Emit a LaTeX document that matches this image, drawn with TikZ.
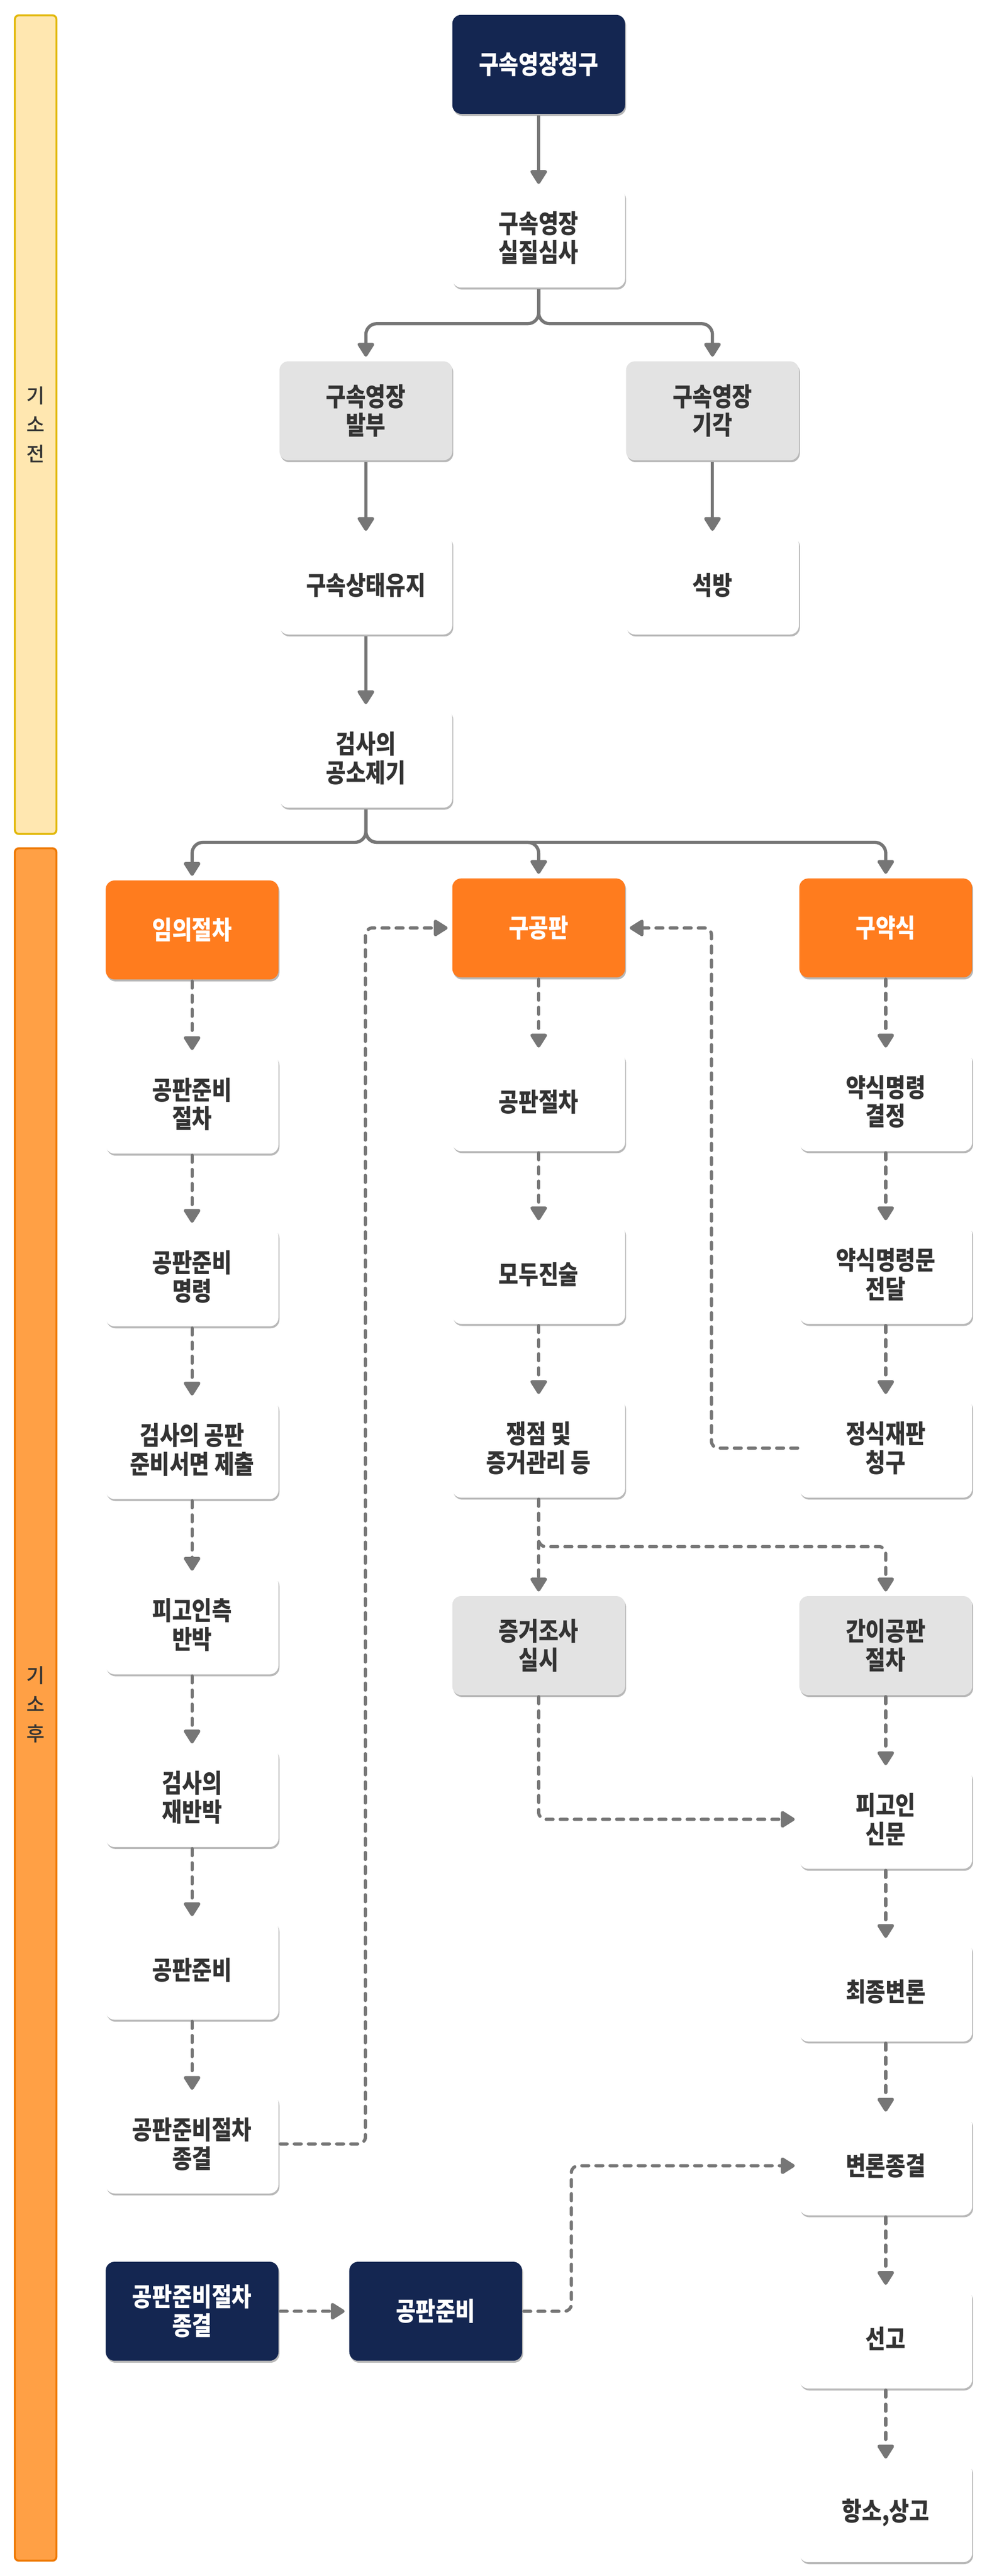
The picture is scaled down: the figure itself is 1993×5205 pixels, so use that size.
\documentclass[tikz,border=0pt]{standalone}
\usepackage{fontspec}
\newfontfamily\krfont{Noto Sans CJK KR}[FakeStretch=0.84]
\newfontfamily\krmed{Noto Sans CJK KR Medium}
\usetikzlibrary{arrows.meta,shadows,calc}
\definecolor{navyc}{HTML}{142651}
\definecolor{orangec}{HTML}{FF7C1E}
\definecolor{grayc}{HTML}{E3E3E3}
\definecolor{textc}{HTML}{333333}
\definecolor{linec}{HTML}{767676}
\definecolor{barafill}{HTML}{FFE7B0}
\definecolor{baraline}{HTML}{E2B80A}
\definecolor{barbfill}{HTML}{FFA045}
\definecolor{barbline}{HTML}{EE7800}
\newcommand\boxfont{\krfont\bfseries\fontsize{26pt}{29pt}\selectfont}
\newcommand\sidefont{\krmed\fontsize{20pt}{29.5pt}\selectfont}
\begin{document}
\begin{tikzpicture}[x=0.5pt,y=-0.5pt,
  box/.style={rectangle, rounded corners=9pt, minimum width=174.5pt, minimum height=100pt,
    inner sep=0pt, align=center, font=\boxfont, text=textc,
    drop shadow={fill=black, opacity=0.28, shadow xshift=1pt, shadow yshift=-2pt}},
  wbox/.style={box, fill=white},
  gbox/.style={box, fill=grayc},
  obox/.style={box, fill=orangec, text=white},
  nbox/.style={box, fill=navyc, text=white},
  solidarr/.style={draw=linec, line width=3.25pt, -{Triangle[length=15.5pt,width=18.5pt,round]},
    shorten >=4.5pt, shorten <=1.5pt},
  dasharr/.style={solidarr, dash pattern=on 7pt off 7.25pt, line cap=round},
  sidetext/.style={font=\sidefont, text=textc, align=center, inner sep=0pt}]
\useasboundingbox (0,0) rectangle (1993,5205);
\fill[white] (0,0) rectangle (1993,5205);
% side bars
\draw[fill=barafill, draw=baraline, line width=2pt, rounded corners=4pt] (30,31) rectangle (114,1685);
\draw[fill=barbfill, draw=barbline, line width=2pt, rounded corners=4pt] (30,1714) rectangle (114,5174);
\node[sidetext] (sa) at (72,858) {기\\소\\전};
\node[sidetext] (sb) at (72,3444) {기\\소\\후};
% top nodes
\node[nbox] (req) at (1088,130) {구속영장청구};
\node[wbox] (exam) at (1088,481) {구속영장\\실질심사};
\node[gbox] (issue) at (739,830) {구속영장\\발부};
\node[gbox] (reject) at (1439,830) {구속영장\\기각};
\node[wbox] (keep) at (739,1182) {구속상태유지};
\node[wbox] (release) at (1439,1182) {석방};
\node[wbox] (indict) at (739,1532) {검사의\\공소제기};
\node[obox] (vol) at (388,1879) {임의절차};
\node[obox] (gong) at (1088,1875) {구공판};
\node[obox] (yak) at (1789,1875) {구약식};
% left column
\node[wbox] (la) at (388,2231) {공판준비\\절차};
\node[wbox] (lb) at (388,2580) {공판준비\\명령};
\node[wbox] (lc) at (388,2929) {검사의 공판\\준비서면 제출};
\node[wbox] (ld) at (388,3283) {피고인측\\반박};
\node[wbox] (le) at (388,3632) {검사의\\재반박};
\node[wbox] (lf) at (388,3981) {공판준비};
\node[wbox] (lg) at (388,4332) {공판준비절차\\종결};
% center column
\node[wbox] (ca) at (1088,2226) {공판절차};
\node[wbox] (cb) at (1088,2575) {모두진술};
\node[wbox] (cc) at (1088,2926) {쟁점 및\\증거관리 등};
\node[gbox] (cd) at (1088,3325) {증거조사\\실시};
% right column
\node[wbox] (ra) at (1789,2226) {약식명령\\결정};
\node[wbox] (rb) at (1789,2575) {약식명령문\\전달};
\node[wbox] (rc) at (1789,2926) {정식재판\\청구};
\node[gbox] (rd) at (1789,3325) {간이공판\\절차};
\node[wbox] (re) at (1789,3676) {피고인\\신문};
\node[wbox] (rf) at (1789,4025) {최종변론};
\node[wbox] (rg) at (1789,4376) {변론종결};
\node[wbox] (rh) at (1789,4726) {선고};
\node[wbox] (ri) at (1789,5077) {항소,상고};
% bottom navy
\node[nbox] (na) at (388,4670) {공판준비절차\\종결};
\node[nbox] (nb) at (880,4670) {공판준비};
% helper coordinates
\coordinate (fa) at (1088,654);
\coordinate (fb) at (739,1702);
\coordinate (lx) at (738,0);
\coordinate (rx) at (1437,0);
\coordinate (by) at (0,3125);
\coordinate (nx) at (1154,0);
% solid connectors
\draw[solidarr] (req) -- (exam);
\draw[solidarr, rounded corners=11pt] (exam.south) -- (fa) -| (issue.north);
\draw[solidarr, rounded corners=11pt] (exam.south) -- (fa) -| (reject.north);
\draw[solidarr] (issue) -- (keep);
\draw[solidarr] (reject) -- (release);
\draw[solidarr] (keep) -- (indict);
\draw[solidarr, rounded corners=11pt] (indict.south) -- (fb) -| (vol.north);
\draw[solidarr, rounded corners=11pt] (indict.south) -- (fb) -| (yak.north);
\draw[solidarr, rounded corners=11pt] (indict.south) -- (fb) -| (gong.north);
% dashed: left column
\draw[dasharr] (vol) -- (la);
\draw[dasharr] (la) -- (lb);
\draw[dasharr] (lb) -- (lc);
\draw[dasharr] (lc) -- (ld);
\draw[dasharr] (ld) -- (le);
\draw[dasharr] (le) -- (lf);
\draw[dasharr] (lf) -- (lg);
% dashed: center column
\draw[dasharr] (gong) -- (ca);
\draw[dasharr] (ca) -- (cb);
\draw[dasharr] (cb) -- (cc);
\draw[dasharr] (cc) -- (cd);
\draw[dasharr, rounded corners=7pt] (cc.south) |- (by -| rd.north) -- (rd.north);
\draw[dasharr, rounded corners=7pt] (cd.south) |- (re.west);
% dashed: right column
\draw[dasharr] (yak) -- (ra);
\draw[dasharr] (ra) -- (rb);
\draw[dasharr] (rb) -- (rc);
\draw[dasharr] (rd) -- (re);
\draw[dasharr] (re) -- (rf);
\draw[dasharr] (rf) -- (rg);
\draw[dasharr] (rg) -- (rh);
\draw[dasharr] (rh) -- (ri);
% loops
\draw[dasharr, rounded corners=7pt] (lg.east) -| (lx |- gong.west) -- (gong.west);
\draw[dasharr, rounded corners=7pt] (rc.west) -| (rx |- gong.east) -- (gong.east);
\draw[dasharr] (na) -- (nb);
\draw[dasharr, rounded corners=7pt] (nb.east) -| (nx |- rg.west) -- (rg.west);
\end{tikzpicture}
\end{document}
